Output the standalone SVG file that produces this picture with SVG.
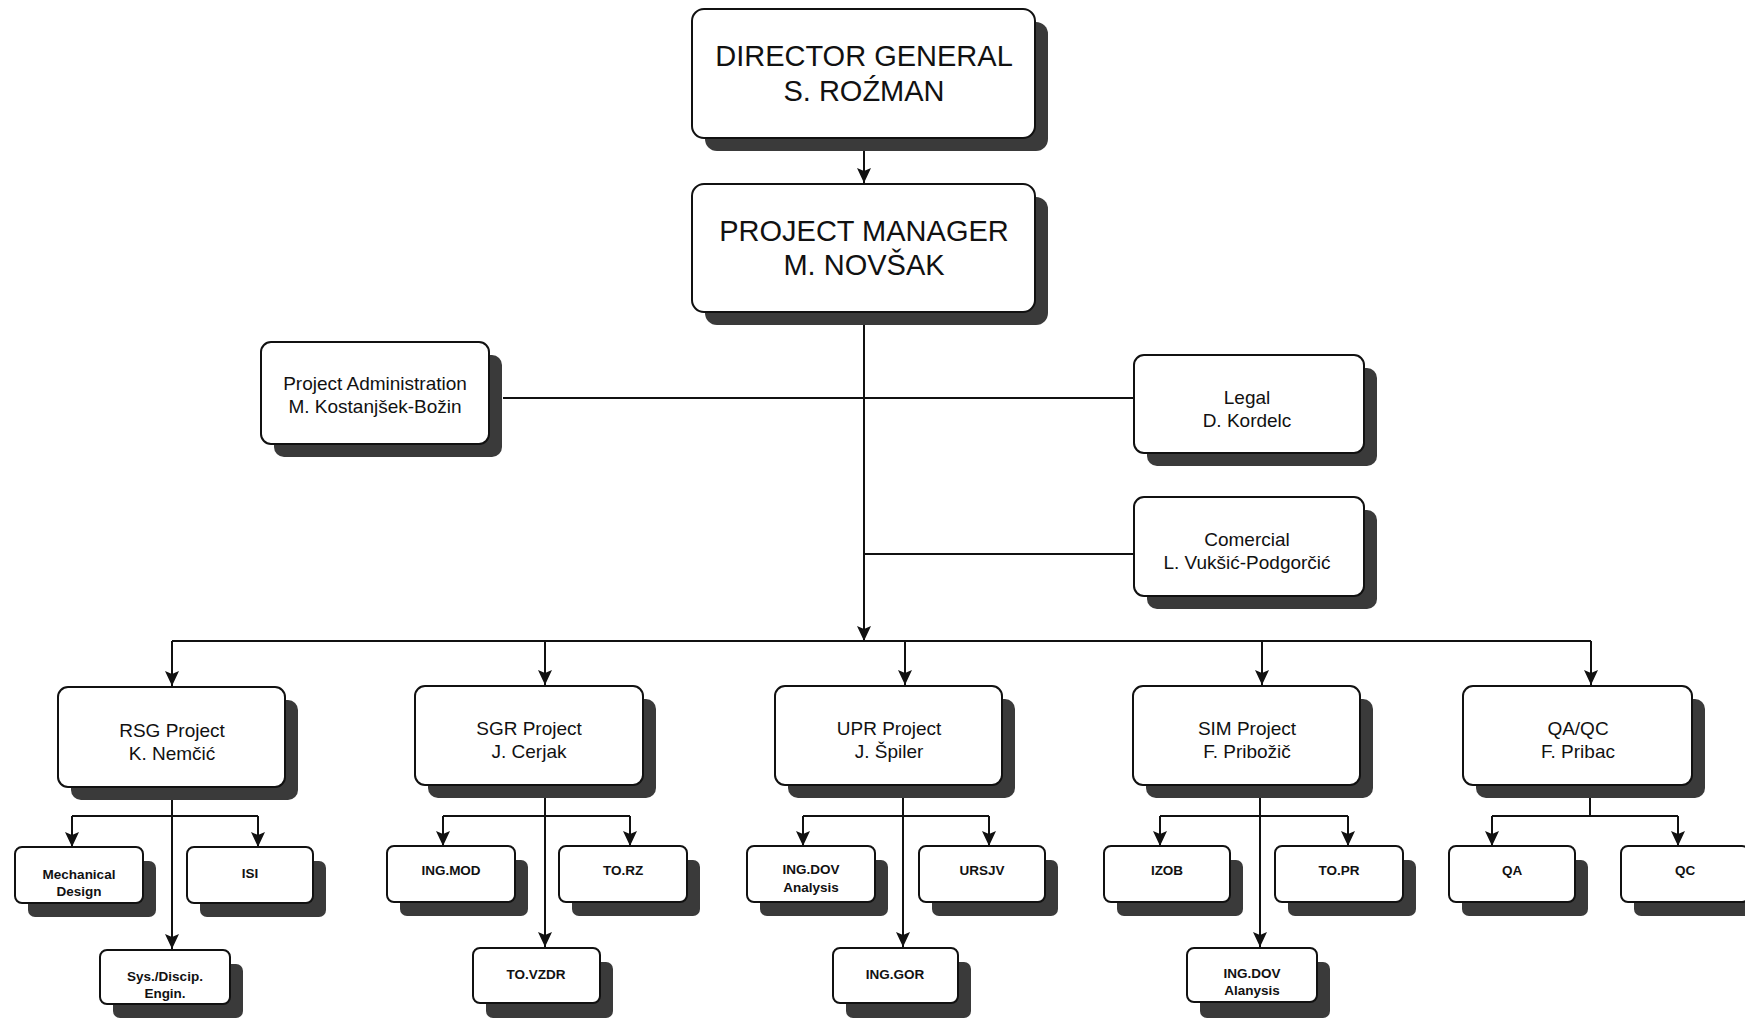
<svg xmlns="http://www.w3.org/2000/svg" width="1745" height="1021" viewBox="0 0 1745 1021">
<style>
.box{fill:#fff;stroke:#111;stroke-width:2}
.sh{fill:#3a3a3a}
.ln{fill:none;stroke:#111;stroke-width:2}
text{font-family:"Liberation Sans",Arial,sans-serif;fill:#111;text-anchor:middle}
.t1{font-size:29px}
.t2{font-size:19px}
.t3{font-size:13.5px;font-weight:bold}
</style>
<defs>
<marker id="ah" markerUnits="userSpaceOnUse" markerWidth="15" markerHeight="14" refX="15" refY="7" orient="auto">
<path d="M0,0 L15,7 L0,14 L3,7 z" fill="#111"/>
</marker>
</defs>
<rect width="1745" height="1021" fill="#fff"/>

<g id="connectors">
<path class="ln" d="M864,138 V183" marker-end="url(#ah)"/>
<path class="ln" d="M864,312 V641" marker-end="url(#ah)"/>
<path class="ln" d="M503,398 H1134"/>
<path class="ln" d="M864,554 H1134"/>
<path class="ln" d="M172,641 H1591"/>
<path class="ln" d="M172,641 V686" marker-end="url(#ah)"/>
<path class="ln" d="M545,641 V685" marker-end="url(#ah)"/>
<path class="ln" d="M905,641 V685" marker-end="url(#ah)"/>
<path class="ln" d="M1262,641 V685" marker-end="url(#ah)"/>
<path class="ln" d="M1591,641 V685" marker-end="url(#ah)"/>
<!-- RSG -->
<path class="ln" d="M172,787 V949" marker-end="url(#ah)"/>
<path class="ln" d="M72,816 H258"/>
<path class="ln" d="M72,816 V847" marker-end="url(#ah)"/>
<path class="ln" d="M258,816 V847" marker-end="url(#ah)"/>
<!-- SGR -->
<path class="ln" d="M545,785 V947" marker-end="url(#ah)"/>
<path class="ln" d="M443,816 H630"/>
<path class="ln" d="M443,816 V846" marker-end="url(#ah)"/>
<path class="ln" d="M630,816 V846" marker-end="url(#ah)"/>
<!-- UPR -->
<path class="ln" d="M903,785 V947" marker-end="url(#ah)"/>
<path class="ln" d="M803,816 H989"/>
<path class="ln" d="M803,816 V846" marker-end="url(#ah)"/>
<path class="ln" d="M989,816 V846" marker-end="url(#ah)"/>
<!-- SIM -->
<path class="ln" d="M1260,785 V947" marker-end="url(#ah)"/>
<path class="ln" d="M1160,816 H1348"/>
<path class="ln" d="M1160,816 V846" marker-end="url(#ah)"/>
<path class="ln" d="M1348,816 V846" marker-end="url(#ah)"/>
<!-- QA/QC -->
<path class="ln" d="M1590,785 V816"/>
<path class="ln" d="M1492,816 H1678"/>
<path class="ln" d="M1492,816 V846" marker-end="url(#ah)"/>
<path class="ln" d="M1678,816 V846" marker-end="url(#ah)"/>
</g>

<g id="director">
<rect class="sh" x="705" y="22" width="343" height="129" rx="12"/>
<rect class="box" x="692" y="9" width="343" height="129" rx="12"/>
<text class="t1" x="864" y="66">DIRECTOR GENERAL</text>
<text class="t1" x="864" y="101">S. ROŹMAN</text>
</g>
<g id="project-manager">
<rect class="sh" x="705" y="197" width="343" height="128" rx="12"/>
<rect class="box" x="692" y="184" width="343" height="128" rx="12"/>
<text class="t1" x="864" y="241">PROJECT MANAGER</text>
<text class="t1" x="864" y="275">M. NOVŠAK</text>
</g>
<g id="project-admin">
<rect class="sh" x="274" y="355" width="228" height="102" rx="10"/>
<rect class="box" x="261" y="342" width="228" height="102" rx="10"/>
<text class="t2" x="375" y="390">Project Administration</text>
<text class="t2" x="375" y="413">M. Kostanjšek-Božin</text>
</g>
<g id="legal">
<rect class="sh" x="1147" y="368" width="230" height="98" rx="10"/>
<rect class="box" x="1134" y="355" width="230" height="98" rx="10"/>
<text class="t2" x="1247" y="404">Legal</text>
<text class="t2" x="1247" y="427">D. Kordelc</text>
</g>
<g id="comercial">
<rect class="sh" x="1147" y="510" width="230" height="99" rx="10"/>
<rect class="box" x="1134" y="497" width="230" height="99" rx="10"/>
<text class="t2" x="1247" y="546">Comercial</text>
<text class="t2" x="1247" y="569">L. Vukšić-Podgorčić</text>
</g>

<g id="rsg">
<rect class="sh" x="71" y="700" width="227" height="100" rx="10"/>
<rect class="box" x="58" y="687" width="227" height="100" rx="10"/>
<text class="t2" x="172" y="737">RSG Project</text>
<text class="t2" x="172" y="760">K. Nemčić</text>
</g>
<g id="sgr">
<rect class="sh" x="428" y="699" width="228" height="99" rx="10"/>
<rect class="box" x="415" y="686" width="228" height="99" rx="10"/>
<text class="t2" x="529" y="735">SGR Project</text>
<text class="t2" x="529" y="758">J. Cerjak</text>
</g>
<g id="upr">
<rect class="sh" x="788" y="699" width="227" height="99" rx="10"/>
<rect class="box" x="775" y="686" width="227" height="99" rx="10"/>
<text class="t2" x="889" y="735">UPR Project</text>
<text class="t2" x="889" y="758">J. Špiler</text>
</g>
<g id="sim">
<rect class="sh" x="1146" y="699" width="227" height="99" rx="10"/>
<rect class="box" x="1133" y="686" width="227" height="99" rx="10"/>
<text class="t2" x="1247" y="735">SIM Project</text>
<text class="t2" x="1247" y="758">F. Pribožič</text>
</g>
<g id="qaqc">
<rect class="sh" x="1476" y="699" width="229" height="99" rx="10"/>
<rect class="box" x="1463" y="686" width="229" height="99" rx="10"/>
<text class="t2" x="1578" y="735">QA/QC</text>
<text class="t2" x="1578" y="758">F. Pribac</text>
</g>

<g id="mech">
<rect class="sh" x="28" y="861" width="128" height="56" rx="7"/>
<rect class="box" x="15" y="847" width="128" height="56" rx="7"/>
<text class="t3" x="79" y="879">Mechanical</text>
<text class="t3" x="79" y="896">Design</text>
</g>
<g id="isi">
<rect class="sh" x="200" y="861" width="126" height="56" rx="7"/>
<rect class="box" x="187" y="847" width="126" height="56" rx="7"/>
<text class="t3" x="250" y="878">ISI</text>
</g>
<g id="sys">
<rect class="sh" x="113" y="964" width="130" height="54" rx="7"/>
<rect class="box" x="100" y="950" width="130" height="54" rx="7"/>
<text class="t3" x="165" y="981">Sys./Discip.</text>
<text class="t3" x="165" y="998">Engin.</text>
</g>
<g id="ingmod">
<rect class="sh" x="400" y="860" width="128" height="56" rx="7"/>
<rect class="box" x="387" y="846" width="128" height="56" rx="7"/>
<text class="t3" x="451" y="875">ING.MOD</text>
</g>
<g id="torz">
<rect class="sh" x="572" y="860" width="128" height="56" rx="7"/>
<rect class="box" x="559" y="846" width="128" height="56" rx="7"/>
<text class="t3" x="623" y="875">TO.RZ</text>
</g>
<g id="tovzdr">
<rect class="sh" x="486" y="962" width="127" height="56" rx="7"/>
<rect class="box" x="473" y="948" width="127" height="55" rx="7"/>
<text class="t3" x="536" y="979">TO.VZDR</text>
</g>
<g id="ingdov1">
<rect class="sh" x="760" y="860" width="128" height="56" rx="7"/>
<rect class="box" x="747" y="846" width="128" height="56" rx="7"/>
<text class="t3" x="811" y="874">ING.DOV</text>
<text class="t3" x="811" y="892">Analysis</text>
</g>
<g id="ursjv">
<rect class="sh" x="932" y="860" width="126" height="56" rx="7"/>
<rect class="box" x="919" y="846" width="126" height="56" rx="7"/>
<text class="t3" x="982" y="875">URSJV</text>
</g>
<g id="inggor">
<rect class="sh" x="846" y="962" width="125" height="56" rx="7"/>
<rect class="box" x="833" y="948" width="125" height="55" rx="7"/>
<text class="t3" x="895" y="979">ING.GOR</text>
</g>
<g id="izob">
<rect class="sh" x="1117" y="860" width="126" height="56" rx="7"/>
<rect class="box" x="1104" y="846" width="126" height="56" rx="7"/>
<text class="t3" x="1167" y="875">IZOB</text>
</g>
<g id="topr">
<rect class="sh" x="1288" y="860" width="128" height="56" rx="7"/>
<rect class="box" x="1275" y="846" width="128" height="56" rx="7"/>
<text class="t3" x="1339" y="875">TO.PR</text>
</g>
<g id="ingdov2">
<rect class="sh" x="1200" y="962" width="130" height="56" rx="7"/>
<rect class="box" x="1187" y="948" width="130" height="54" rx="7"/>
<text class="t3" x="1252" y="978">ING.DOV</text>
<text class="t3" x="1252" y="995">Alanysis</text>
</g>
<g id="qa">
<rect class="sh" x="1462" y="860" width="126" height="56" rx="7"/>
<rect class="box" x="1449" y="846" width="126" height="56" rx="7"/>
<text class="t3" x="1512" y="875">QA</text>
</g>
<g id="qc">
<rect class="sh" x="1634" y="860" width="128" height="56" rx="7"/>
<rect class="box" x="1621" y="846" width="128" height="56" rx="7"/>
<text class="t3" x="1685" y="875">QC</text>
</g>
</svg>
